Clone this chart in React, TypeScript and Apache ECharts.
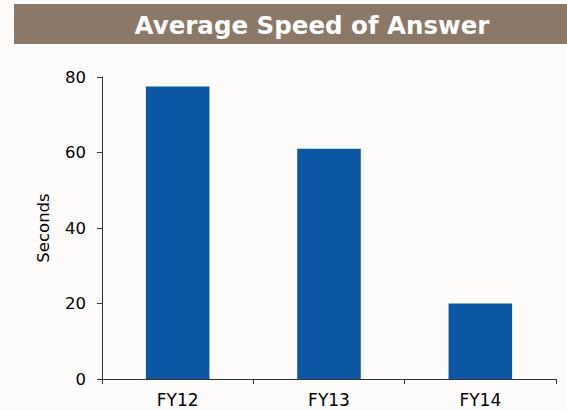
import React, { useEffect, useRef } from "react";
import * as echarts from "echarts";

const categories = ["FY12", "FY13", "FY14"];
const values = [77.5, 61, 20];
const yTicks = [0, 20, 40, 60, 80];

export default function App() {
  const ref = useRef<HTMLDivElement>(null);
  useEffect(() => {
    document.body.style.margin = "0";
    const chart = echarts.init(ref.current!, null, { renderer: "svg" });
    chart.setOption({
      animation: false,
      backgroundColor: "#fdfcfa",
      graphic: [
        { type: "rect", shape: { x: 14, y: 4, width: 553, height: 40 }, style: { fill: "#8b7866" } },
        {
          type: "text",
          x: 312,
          y: 25,
          style: {
            text: "Average Speed of Answer",
            fill: "#ffffff",
            font: "bold 24.5px 'DejaVu Sans'",
            textAlign: "center",
            textVerticalAlign: "middle",
          },
        },
      ],
      grid: { left: 102, top: 77, right: 11, bottom: 31 },
      xAxis: {
        type: "category",
        data: categories,
        axisLine: { lineStyle: { color: "#333", width: 1 } },
        axisTick: { show: true, length: 5, lineStyle: { color: "#333" } },
        axisLabel: { color: "#000", fontSize: 17, fontFamily: "DejaVu Sans", margin: 12 },
      },
      yAxis: {
        type: "value",
        min: yTicks[0],
        max: yTicks[yTicks.length - 1],
        interval: 20,
        name: "Seconds",
        nameLocation: "middle",
        nameGap: 50,
        nameRotate: 90,
        nameTextStyle: { color: "#000", fontSize: 16.5, fontFamily: "DejaVu Sans" },
        axisLine: { show: true, lineStyle: { color: "#333", width: 1 } },
        axisTick: { show: true, length: 5, lineStyle: { color: "#333" } },
        splitLine: { show: false },
        axisLabel: { color: "#000", fontSize: 16.5, fontFamily: "DejaVu Sans", margin: 16 },
      },
      series: [
        {
          type: "bar",
          data: values,
          barWidth: "42%",
          itemStyle: { color: "#0b57a4" },
        },
      ],
    });
    return () => chart.dispose();
  }, []);
  return <div ref={ref} style={{ width: 567, height: 410 }} />;
}
